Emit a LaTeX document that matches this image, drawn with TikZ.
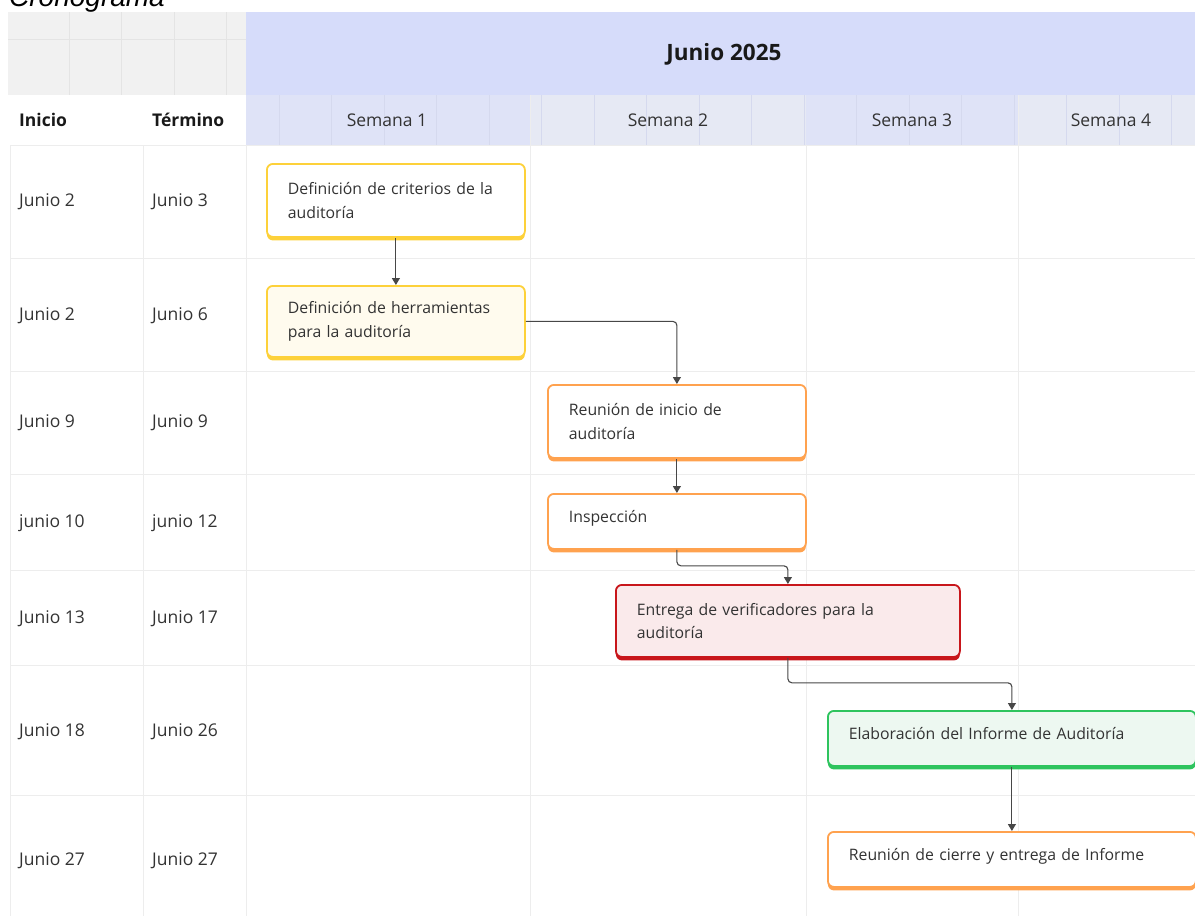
\documentclass[tikz,border=0pt]{standalone}
\usepackage{fontspec}
\setmainfont{Open Sans}
\newfontfamily\titlefont{Liberation Sans}
\usetikzlibrary{arrows.meta,shadows}

\definecolor{txtgray}{HTML}{333333}
\definecolor{headgray}{HTML}{F1F1F1}
\definecolor{headline}{HTML}{E4E4E4}
\definecolor{monthblue}{HTML}{D6DCFA}
\definecolor{weekA}{HTML}{DFE3F7}
\definecolor{weekB}{HTML}{E6E9F4}
\definecolor{weekline}{HTML}{D5D9EE}
\definecolor{gridline}{HTML}{EDEDED}
\definecolor{clryellow}{HTML}{FDD13A}
\definecolor{clrorange}{HTML}{FFA24F}
\definecolor{clrred}{HTML}{C8161B}
\definecolor{clrgreen}{HTML}{2EC45E}
\definecolor{fillyellow}{HTML}{FFFBEE}
\definecolor{fillred}{HTML}{FAEAEB}
\definecolor{fillgreen}{HTML}{EDF8F1}
\definecolor{arrowgray}{HTML}{474747}

\tikzset{
	cell/.style={anchor=west, text=txtgray, inner sep=0pt, font=\fontsize{17.5}{20}\selectfont},
	headcell/.style={cell, text=black!90, font=\fontsize{17.5}{20}\selectfont\bfseries},
	week/.style={cell, anchor=center},
	task/.style 2 args={draw=#1, fill=#2, line width=1.8pt, rounded corners=6pt,
		anchor=north west, align=left, inner xsep=21pt, inner ysep=0pt,
		text=txtgray, font=\fontsize{15.8}{23.5}\selectfont,
		general shadow={fill=#1, shadow yshift=-3.5pt}},
	oneline/.style={text depth=9pt},
	link/.style={draw=arrowgray, line width=1.1pt, rounded corners=4pt,
		-{Triangle[length=7pt,width=8pt]}}
}

\begin{document}
\begin{tikzpicture}[x=1pt,y=-1pt]
\useasboundingbox (0,0) rectangle (1195,916);

\def\headT{12}
\def\headM{95}
\def\headB{145}

% title, cut by the page edge
\node[anchor=base west, inner sep=0pt, font=\fontsize{28}{30}\selectfont\titlefont\itshape]
	(title) at (9,6) {Cronograma};

% header
\fill[headgray] (8,\headT) rectangle (246,\headM);
\foreach \x in {69,121.5,...,230}
	\draw[headline] (\x,\headT) -- (\x,\headM);
\draw[headline] (8,39) -- (246,39);
\fill[monthblue] (246,\headT) rectangle (1195,\headM);
\fill[white] (10,\headM) rectangle (246,\headB);
\fill[weekA] (246,\headM) rectangle (530,\headB);
\fill[weekB] (530,\headM) rectangle (806,\headB);
\fill[weekA] (806,\headM) rectangle (1018,\headB);
\fill[weekB] (1018,\headM) rectangle (1195,\headB);
\foreach \x in {279,331.5,...,1195}
	\draw[weekline] (\x,\headM) -- (\x,\headB);

\node[inner sep=0pt, font=\fontsize{22.5}{26}\selectfont\bfseries, text=black!90] (month) at (724,54) {Junio 2025};
\node[headcell] (hini) at (19,120) {Inicio};
\node[headcell] (hfin) at (152,120) {Término};
\node[week] (w1) at (387,120) {Semana 1};
\node[week] (w2) at (668,120) {Semana 2};
\node[week] (w3) at (912,120) {Semana 3};
\node[week] (w4) at (1111,120) {Semana 4};

% grid
\foreach \y in {145,258,371,474,570,665,795}
	\draw[gridline] (10,\y) -- (1195,\y);
\foreach \x in {10,143,246,530,806,1018}
	\draw[gridline] (\x,\headB) -- (\x,916);
\draw[gridline] (530,\headM) -- (530,\headB);
\draw[gridline] (1018,\headM) -- (1018,\headB);

% dates
\foreach \ini/\fin/\y [count=\i] in {Junio 2/Junio 3/202, Junio 2/Junio 6/316,
		Junio 9/Junio 9/423, junio 10/junio 12/523, Junio 13/Junio 17/619,
		Junio 18/Junio 26/732, Junio 27/Junio 27/861}{
	\node[cell] (ini\i) at (19,\y) {\ini};
	\node[cell] (fin\i) at (152,\y) {\fin};
}

% tasks
\node[task={clryellow}{white}, text width=216pt, minimum height=73pt] (crit) at (266,163)
	{Definición de criterios de la\\auditoría};
\node[task={clryellow}{fillyellow}, text width=216pt, minimum height=71pt] (herr) at (266,285)
	{Definición de herramientas\\para la auditoría};
\node[task={clrorange}{white}, text width=216pt, minimum height=73pt] (reun) at (547,384)
	{Reunión de inicio de\\auditoría};
\node[task={clrorange}{white}, oneline, text width=216pt, minimum height=55pt] (insp) at (547,493)
	{Inspección};
\node[task={clrred}{fillred}, text width=302pt, minimum height=72pt] (entr) at (615,584)
	{Entrega de verificadores para la\\auditoría};
\node[task={clrgreen}{fillgreen}, oneline, text width=326pt, minimum height=55pt] (elab) at (827,710)
	{Elaboración del Informe de Auditoría};
\node[task={clrorange}{white}, oneline, text width=326pt, minimum height=55pt] (cier) at (827,831)
	{Reunión de cierre y entrega de Informe};

% links
\draw[link] (crit.south) -- (herr.north);
\draw[link] (herr.east) -| (reun.north);
\draw[link] (reun.south) -- (insp.north);
\draw[link] (insp.south) -- ++(0,16) -| (entr.north);
\draw[link] (entr.south) -- ++(0,25) -| (elab.north);
\draw[link] (elab.south) -- (cier.north);

\end{tikzpicture}
\end{document}
